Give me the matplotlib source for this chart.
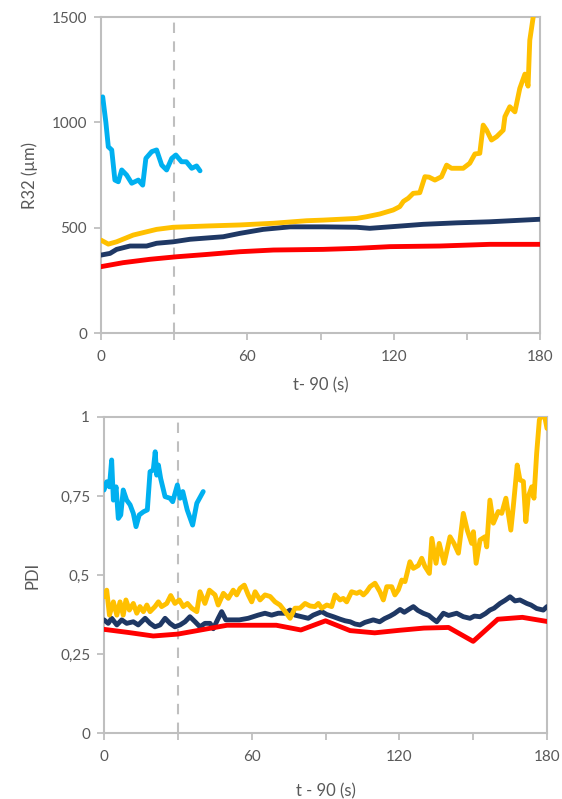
import matplotlib
matplotlib.use("Agg")
import matplotlib.pyplot as plt
from matplotlib.ticker import FixedLocator, FuncFormatter

plt.rcParams['font.family'] = ['Lato', 'DejaVu Sans']

# ---------------- R32 (top panel) ----------------
r32_blue_t = [0, 0.7, 2, 3, 4.4, 5.7, 7.1, 8.5, 10.5, 12.6, 15.3, 17.1, 18.4, 20.8,
              22.8, 24.9, 26.9, 29, 30.7, 33, 35, 37.2, 39.2, 40.6]
r32_blue_v = [1110, 1121, 1000, 884, 869, 726, 718, 774, 750, 711, 726, 702, 829, 861,
              869, 797, 774, 829, 845, 813, 813, 782, 793, 770]

r32_navy_t = [0, 3.7, 6.4, 11.9, 18.7, 22.8, 29.6, 36.5, 50.1, 56.9, 66.5, 77.5, 91.1,
              104.8, 110.2, 118.4, 132.1, 145.8, 159.4, 180]
r32_navy_v = [370, 378, 397, 413, 413, 426, 433, 445, 457, 473, 492, 504, 504,
              502, 497, 504, 516, 523, 528, 540]

r32_red_t = [0, 9.1, 20.1, 31, 43.4, 57, 70.7, 91.1, 104.8, 118.4, 138.9, 159.4, 180]
r32_red_v = [315, 334, 350, 362, 373, 386, 394, 397, 402, 410, 413, 421, 421]

r32_yellow_t = [0, 3, 6.4, 13.2, 22.8, 29.6, 43.3, 57, 70.6, 84.3, 91.1, 104.8, 108.9,
                114.3, 119.8, 122.5, 124, 126, 128, 130.7, 132.8, 134.5, 136.9, 139.6,
                141.7, 143.7, 148.5, 151.2, 153.3, 155.3, 156.7, 158.1, 160.1, 162.2,
                164.9, 165.6, 167.6, 169.7, 171.7, 173.8, 175.1, 175.8, 177.2, 178]
r32_yellow_v = [441, 422, 433, 465, 492, 502, 508, 513, 521, 533, 536, 544, 552,
                565, 584, 600, 625, 640, 663, 666, 742, 740, 726, 742,
                797, 782, 782, 806, 850, 853, 987, 963, 916, 932,
                963, 1027, 1074, 1050, 1161, 1229, 1172, 1390, 1500, 1600]

# ---------------- PDI (bottom panel) ----------------
pdi_blue_t = [0, 1.1, 2.2, 3.1, 3.8, 4.9, 5.8, 6.8, 7.8, 9.2, 10.6, 11.9, 13, 14.3, 16,
              17.6, 18.7, 20, 20.8, 21.4, 22.1, 23, 24.8, 26.8, 27.9, 29.8, 30.9, 32,
              33.8, 36, 37.7, 40.3]
pdi_blue_v = [0.769, 0.795, 0.779, 0.864, 0.737, 0.779, 0.679, 0.690, 0.769, 0.737, 0.722,
              0.695, 0.653, 0.690, 0.700, 0.706, 0.827, 0.832, 0.890, 0.816, 0.848, 0.806,
              0.748, 0.743, 0.732, 0.785, 0.743, 0.764, 0.706, 0.658, 0.727, 0.764]

pdi_red_t = [0, 10, 20, 30, 40, 50, 60, 70, 80, 90, 100, 110, 120, 130, 140, 150, 160, 170, 180]
pdi_red_v = [0.328, 0.318, 0.307, 0.313, 0.327, 0.341, 0.341, 0.341, 0.326, 0.355, 0.324,
             0.317, 0.325, 0.332, 0.334, 0.290, 0.360, 0.366, 0.353]

pdi_navy_t = [0, 1.7, 3.1, 5.2, 7.2, 9.2, 11.9, 13.9, 16.7, 18.7, 20.7, 22.8, 24.8, 26.8,
              28.8, 30.9, 32.9, 34.9, 37, 39, 41, 43.1, 44.4, 46.4, 47.8, 49.5, 52, 55,
              58.6, 62.6, 65.4, 68.1, 70.8, 73.6, 75.6, 77.6, 80.3, 83, 85, 88.5, 90.5,
              93.2, 96, 98, 100, 102, 104, 106, 109.4, 112, 114, 116.2, 118, 120.3, 122,
              124, 125.7, 127.5, 129.7, 132, 133.5, 135.2, 137.9, 140, 143.3, 146, 148.7,
              150.5, 152.8, 155, 156.8, 158.5, 160.9, 163, 165, 167, 169, 171.8, 173.5,
              175.8, 178.5, 180]
pdi_navy_v = [0.358, 0.347, 0.363, 0.342, 0.358, 0.347, 0.352, 0.342, 0.363, 0.347, 0.336,
              0.342, 0.363, 0.347, 0.336, 0.342, 0.352, 0.368, 0.352, 0.336, 0.347, 0.347,
              0.330, 0.363, 0.384, 0.358, 0.358, 0.358, 0.363, 0.373, 0.379, 0.373, 0.379,
              0.379, 0.389, 0.373, 0.368, 0.363, 0.373, 0.384, 0.375, 0.368, 0.360, 0.355,
              0.352, 0.345, 0.342, 0.350, 0.358, 0.352, 0.362, 0.370, 0.378, 0.391, 0.382,
              0.392, 0.400, 0.388, 0.379, 0.372, 0.362, 0.352, 0.379, 0.372, 0.379, 0.368,
              0.363, 0.370, 0.368, 0.378, 0.389, 0.395, 0.410, 0.420, 0.431, 0.418, 0.421,
              0.410, 0.405, 0.394, 0.389, 0.400]

pdi_yellow_t = [0, 1.1, 2.2, 3.8, 5.2, 6.5, 7.8, 8.9, 10.3, 11.9, 13.3, 14.6, 16, 17.4,
                18.7, 20.7, 22.1, 23.4, 25.5, 27.1, 28.8, 30.6, 32.2, 33.9, 35.6, 37.7,
                39, 41, 42.8, 45.1, 46.4, 48.5, 50.5, 52.5, 53.9, 55.3, 57, 58.6, 60, 61.4,
                63.4, 65.4, 67.5, 69.5, 71.5, 73.6, 75.6, 77.6, 79.6, 81.7, 83.7, 85.7,
                87.1, 88.5, 90.5, 92.5, 93.9, 95.9, 97.2, 98.6, 100.6, 102.7, 104, 105.4,
                106.7, 108.1, 110.1, 112.1, 113.5, 114.9, 116.9, 118.2, 119.6, 121, 122.3,
                124.3, 125.7, 127.7, 129.1, 130.4, 132.2, 133.2, 134.9, 136.2, 138.2,
                140.6, 142.2, 144, 146, 147.6, 149.4, 150.1, 151.2, 152.8, 154.8, 155.5,
                156.8, 158.2, 160.2, 161.6, 163.3, 165.3, 166.3, 167.9, 169, 170.4, 171.4,
                172.4, 173.8, 174.7, 175.8, 176.9, 177.9, 179.2, 180]
pdi_yellow_v = [0.431, 0.452, 0.373, 0.415, 0.373, 0.415, 0.373, 0.421, 0.389, 0.410, 0.379,
                0.400, 0.384, 0.405, 0.384, 0.400, 0.415, 0.400, 0.410, 0.435, 0.410, 0.421,
                0.400, 0.410, 0.395, 0.384, 0.447, 0.410, 0.452, 0.437, 0.405, 0.442, 0.426,
                0.452, 0.437, 0.458, 0.468, 0.437, 0.415, 0.447, 0.421, 0.437, 0.432, 0.415,
                0.405, 0.384, 0.363, 0.395, 0.395, 0.410, 0.402, 0.400, 0.410, 0.395, 0.405,
                0.400, 0.437, 0.421, 0.426, 0.415, 0.447, 0.442, 0.447, 0.437, 0.447, 0.463,
                0.474, 0.447, 0.421, 0.463, 0.463, 0.437, 0.453, 0.484, 0.479, 0.542, 0.521,
                0.530, 0.553, 0.527, 0.505, 0.616, 0.537, 0.600, 0.537, 0.621, 0.600, 0.569,
                0.695, 0.642, 0.600, 0.637, 0.537, 0.611, 0.621, 0.589, 0.737, 0.664, 0.701,
                0.695, 0.743, 0.642, 0.716, 0.848, 0.801, 0.796, 0.669, 0.748, 0.779, 0.743,
                0.885, 0.991, 1.006, 0.996, 0.964]

x_ticks = [0, 30, 60, 90, 120, 150, 180]
x_labels = {0: "0", 60: "60", 120: "120", 180: "180"}
r32_ticks = [0, 500, 1000, 1500]
pdi_ticks = [0, 0.25, 0.5, 0.75, 1]
pdi_labels = ["0", "0,25", "0,5", "0,75", "1"]
marker_time = 30

C_BLUE = "#00B0F0"
C_NAVY = "#1F3864"
C_RED = "#FF0000"
C_YELLOW = "#FFC000"
C_AXIS = "#BFBFBF"
C_TEXT = "#595959"
LW = 3.5

fig = plt.figure(figsize=(5.62, 7.99), dpi=100)
ax1 = fig.add_axes([0.1797, 0.5832, 0.9609 - 0.1797, 0.9787 - 0.5832])
ax2 = fig.add_axes([0.1851, 0.0826, 0.9733 - 0.1851, 0.4781 - 0.0826])


def style_axes(ax):
    for s in ax.spines.values():
        s.set_color(C_AXIS)
        s.set_linewidth(1.5)
    ax.tick_params(axis="both", colors=C_AXIS, labelcolor=C_TEXT, labelsize=11,
                   length=5, width=1.3, direction="out")
    ax.tick_params(axis="x", pad=7)
    ax.tick_params(axis="y", pad=5)
    ax.set_xlim(0, 180)
    ax.xaxis.set_major_locator(FixedLocator(x_ticks))
    ax.xaxis.set_major_formatter(FuncFormatter(lambda v, p: x_labels.get(int(round(v)), "")))
    ax.axvline(marker_time, color=C_AXIS, lw=1.5, ls=(0, (5, 4)), zorder=1)


style_axes(ax1)
ax1.set_ylim(0, 1500)
ax1.set_yticks(r32_ticks)
ax1.set_yticklabels([str(v) for v in r32_ticks])
ax1.plot(r32_red_t, r32_red_v, color=C_RED, lw=LW, solid_capstyle="round", zorder=3)
ax1.plot(r32_navy_t, r32_navy_v, color=C_NAVY, lw=LW, solid_capstyle="round", zorder=3)
ax1.plot(r32_yellow_t, r32_yellow_v, color=C_YELLOW, lw=LW, solid_capstyle="round", zorder=3)
ax1.plot(r32_blue_t, r32_blue_v, color=C_BLUE, lw=LW, solid_capstyle="round", zorder=3)
ax1.set_xlabel("t- 90 (s)", color=C_TEXT, fontsize=12, labelpad=10)
ax1.set_ylabel("R32 (µm)", color=C_TEXT, fontsize=12, labelpad=10)

style_axes(ax2)
ax2.set_ylim(0, 1)
ax2.set_yticks(pdi_ticks)
ax2.set_yticklabels(pdi_labels)
ax2.plot(pdi_navy_t, pdi_navy_v, color=C_NAVY, lw=LW, solid_capstyle="round", zorder=3)
ax2.plot(pdi_yellow_t, pdi_yellow_v, color=C_YELLOW, lw=LW, solid_capstyle="round", zorder=3)
ax2.plot(pdi_red_t, pdi_red_v, color=C_RED, lw=LW, solid_capstyle="round", zorder=4)
ax2.plot(pdi_blue_t, pdi_blue_v, color=C_BLUE, lw=LW, solid_capstyle="round", zorder=3)
ax2.set_xlabel("t - 90 (s)", color=C_TEXT, fontsize=12, labelpad=14)
ax2.set_ylabel("PDI", color=C_TEXT, fontsize=12, labelpad=14)

fig.savefig("out.png", dpi=100)
